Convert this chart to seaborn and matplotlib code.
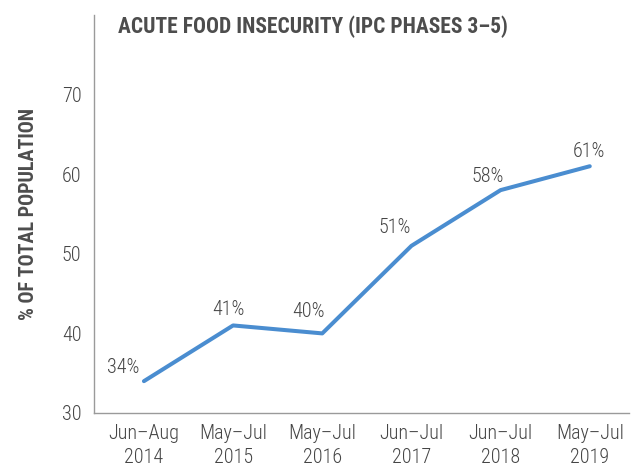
import matplotlib
matplotlib.use("Agg")
import matplotlib.pyplot as plt
import seaborn as sns
import pandas as pd

# Dados
periodos = ["Jun–Aug\n2014", "May–Jul\n2015", "May–Jul\n2016",
            "Jun–Jul\n2017", "Jun–Jul\n2018", "May–Jul\n2019"]
percentuais = [34, 41, 40, 51, 58, 61]
rotulos = ["34%", "41%", "40%", "51%", "58%", "61%"]
y_ticks = [30, 40, 50, 60, 70]

# deslocamento (pixels) dos rótulos em relação aos pontos
offsets = [(-21, 14), (-5, 16), (-14, 22), (-17, 18), (-13, 14), (-1, 15)]

sns.set_style("white")
plt.rcParams["font.family"] = ["Roboto Condensed", "Roboto", "DejaVu Sans"]

cinza_texto = "#454545"
cinza_eixo = "#9a9a9a"
azul = "#4a8dd0"

df = pd.DataFrame({"x": range(len(percentuais)), "y": percentuais})

fig = plt.figure(figsize=(6.37, 4.66), dpi=100)
ax = fig.add_axes([94 / 637, 1 - 413 / 466, 535 / 637, 398 / 466])

sns.lineplot(data=df, x="x", y="y", ax=ax, color=azul, linewidth=2.9)

for i, (v, r) in enumerate(zip(percentuais, rotulos)):
    ax.annotate(r, (i, v), xytext=offsets[i], textcoords="offset pixels",
                ha="center", va="center", fontsize=14.5, color=cinza_texto,
                fontweight="light")

ax.set_xlim(-0.56, 5.44)
ax.set_ylim(30, 80)
ax.set_xticks(range(len(periodos)))
ax.set_xticklabels(periodos, fontsize=14.5, color=cinza_texto, linespacing=1.3,
                   fontweight="light")
ax.set_xticks([i + 0.44 for i in range(5)], minor=True)
ax.tick_params(axis="x", which="major", length=0, pad=8)
ax.tick_params(axis="x", which="minor", length=4, direction="in", color=cinza_eixo)
ax.set_yticks(y_ticks)
ax.set_yticklabels([str(t) for t in y_ticks], fontsize=14.5, color=cinza_texto,
                   fontweight="light")
ax.tick_params(axis="y", length=5, direction="in", color=cinza_eixo, pad=9)

ax.set_xlabel("")
ax.set_ylabel("% OF TOTAL POPULATION", fontsize=14.5, fontweight="bold",
              color="#4d4d4d", labelpad=17)

for s in ["top", "right"]:
    ax.spines[s].set_visible(False)
for s in ["left", "bottom"]:
    ax.spines[s].set_color(cinza_eixo)
    ax.spines[s].set_linewidth(1.0)

fig.text(118 / 637, 1 - 27 / 466, "ACUTE FOOD INSECURITY (IPC PHASES 3–5)",
         fontsize=15.5, fontweight="bold", color="#4d4d4d", va="center", ha="left")

fig.savefig("out.png", dpi=100)
